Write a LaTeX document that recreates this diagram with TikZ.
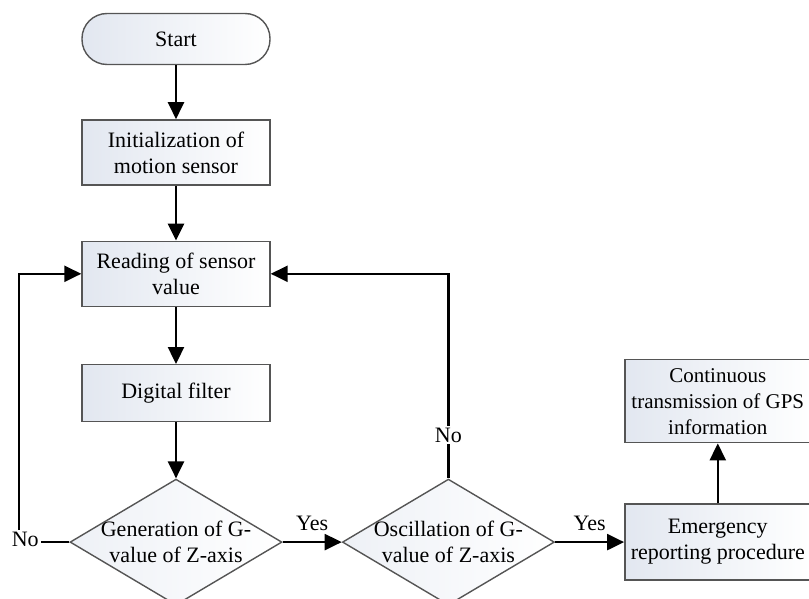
\documentclass[tikz,border=0pt]{standalone}
\usepackage{fontspec}
\setmainfont{Liberation Serif}
\usetikzlibrary{arrows.meta,positioning,shapes.geometric}
\definecolor{cfill}{HTML}{E2E7F0}
\definecolor{cedge}{HTML}{555555}
\tikzset{
  box/.style={draw=cedge,line width=1.4pt,left color=cfill,right color=white,
    align=center,inner sep=2pt,minimum width=188pt},
  >={Triangle[length=17pt,width=16pt]}
}

\begin{document}
\begin{tikzpicture}[font=\fontsize{22}{26}\selectfont,
      term/.style={box,rounded corners=25pt,minimum height=51pt},
      proc/.style={box,minimum height=65pt},
      decision/.style={diamond,draw=cedge,line width=1.4pt,left color=cfill!60,right color=white,
        inner sep=0pt,minimum width=212pt,minimum height=126pt},
      dtext/.style={align=center,inner sep=0pt},
      lbl/.style={inner sep=2pt,fill=white},
      arr/.style={->,line width=2.4pt}]
    \useasboundingbox (-176pt,-560pt) rectangle (633pt,39pt);
    \node[term] (start) at (0,0) {Start};
    \node[proc,below=54pt of start] (init) {Initialization of\\motion sensor};
    \node[proc,below=55pt of init] (read) {Reading of sensor\\value};
    \node[proc,minimum height=57pt,below=57pt of read] (filt) {Digital filter};
    \node[decision,below=56pt of filt] (gen) {};
    \node[dtext] (gentxt) at (gen) {Generation of G-\\value of Z-axis};
    \node[decision,right=59pt of gen] (osc) {};
    \node[dtext] (osctxt) at (osc) {Oscillation of G-\\value of Z-axis};
    \node[proc,minimum width=186pt,minimum height=76pt,right=69pt of osc] (emerg) {Emergency\\reporting procedure};
    \node[proc,minimum width=186pt,minimum height=83pt,above=60pt of emerg,
      font=\fontsize{21}{26}\selectfont] (cont) {Continuous\\transmission of GPS\\information};
    % main column
    \draw[arr] (start)--(init);
    \draw[arr] (init)--(read);
    \draw[arr] (read)--(filt);
    \draw[arr] (filt)--(gen);
    % decisions
    \draw[arr] (gen.east)--node[above=10pt,inner sep=0pt]{Yes}(osc.west);
    \draw[arr] (osc.east)--node[above=10pt,inner sep=0pt]{Yes}(emerg.west);
    \draw[arr] (emerg)--(cont);
    % loops back
    \draw[arr] (gen.west)-- ++(-50pt,0) node[lbl,xshift=6pt,yshift=3pt]{No} |- (read.west);
    \draw[arr] (osc.north) |- node[lbl,pos=0.106]{No} (read.east);
  \end{tikzpicture}
\end{document}
